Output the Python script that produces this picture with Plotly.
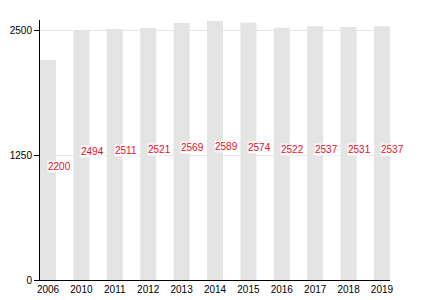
import plotly.graph_objects as go

years = ["2006", "2010", "2011", "2012", "2013", "2014", "2015", "2016", "2017", "2018", "2019"]
values = [2200, 2494, 2511, 2521, 2569, 2589, 2574, 2522, 2537, 2531, 2537]
y_ticks = [0, 1250, 2500]

fig = go.Figure()
fig.add_trace(go.Bar(
    x=list(range(len(years))), y=values, width=0.48,
    marker=dict(color="#e4e4e4", line=dict(width=0)),
    hoverinfo="skip",
))

for i, v in enumerate(values):
    fig.add_annotation(
        x=i, y=v / 2, text=str(v), showarrow=False,
        xshift=11, yshift=4, yanchor="middle",
        font=dict(family="Liberation Sans, Arial", size=10, color="#e8101f"),
        bgcolor="rgba(255,255,255,0.8)", borderpad=0,
    )

fig.update_layout(
    width=430, height=300,
    margin=dict(l=40, r=40, t=20, b=20, autoexpand=False),
    paper_bgcolor="white", plot_bgcolor="white",
    showlegend=False,
    font=dict(family="Liberation Sans, Arial", size=10, color="#000"),
    xaxis=dict(
        range=[-0.24, len(years) - 1 + 0.24],
        tickmode="array", tickvals=list(range(len(years))), ticktext=years,
        showgrid=False, showline=True, linecolor="#000", linewidth=1,
        ticks="", zeroline=False, tickfont=dict(size=10), automargin=False,
    ),
    yaxis=dict(
        range=[0, 2600], tickmode="array", tickvals=y_ticks,
        ticktext=[str(t) for t in y_ticks],
        showgrid=True, gridcolor="#e6e6e6", gridwidth=1,
        showline=True, linecolor="#000", linewidth=1,
        ticks="outside", ticklen=5, tickcolor="#000",
        zeroline=False, tickfont=dict(size=10), automargin=False,
    ),
)

fig.write_html("out.html")
